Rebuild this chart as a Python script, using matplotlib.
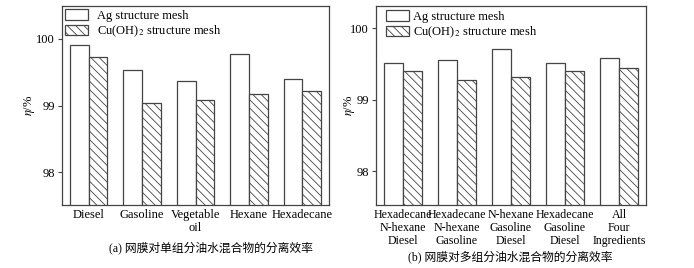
import matplotlib
matplotlib.use("Agg")
import matplotlib.pyplot as plt
import numpy as np

plt.rcParams['font.family'] = ['Liberation Serif', 'Noto Sans CJK SC']
plt.rcParams['mathtext.fontset'] = 'stix'
plt.rcParams['hatch.linewidth'] = 0.6
plt.rcParams['hatch.color'] = '#333333'

# Panel (a): single-component mixtures
cats_a = ["Diesel", "Gasoline", "Vegetable\noil", "Hexane", "Hexadecane"]
ag_a = [99.91, 99.53, 99.36, 99.77, 99.40]
cu_a = [99.73, 99.03, 99.08, 99.17, 99.21]

# Panel (b): multi-component mixtures
cats_b = ["Hexadecane\nN-hexane\nDiesel", "Hexadecane\nN-hexane\nGasoline",
          "N-hexane\nGasoline\nDiesel", "Hexadecane\nGasoline\nDiesel",
          "All\nFour\nIngredients"]
ag_b = [99.51, 99.56, 99.71, 99.52, 99.59]
cu_b = [99.40, 99.28, 99.32, 99.40, 99.45]

yticks = [98, 99, 100]
labels = ["Ag structure mesh", "Cu(OH)$_2$ structure mesh"]
captions = ["(a) 网膜对单组分油水混合物的分离效率", "(b) 网膜对多组分油水混合物的分离效率"]

W, H = 694, 268
fig = plt.figure(figsize=(W / 100, H / 100), dpi=100)

edge = '#444444'
fs = 9

def make(ax, cats, ag, cu, ylim, leg_anchor, textpad, ylab_x, xfs):
    x = np.arange(len(cats))
    w = 0.35
    ax.bar(x - w / 2, ag, w, color='white', edgecolor=edge, linewidth=0.9, label=labels[0])
    ax.bar(x + w / 2, cu, w, color='white', edgecolor=edge, linewidth=0.9, hatch='\\\\\\\\', label=labels[1])
    ax.set_xlim(-0.5, len(cats) - 0.5)
    ax.set_ylim(*ylim)
    ax.set_yticks(yticks)
    ax.set_yticklabels([str(v) for v in yticks], fontsize=fs)
    ax.set_xticks(x)
    ax.set_xticklabels(cats, fontsize=xfs, linespacing=1.08)
    ax.tick_params(axis='x', length=0, pad=3)
    ax.tick_params(axis='y', length=3, width=0.8, color=edge, pad=2)
    for s in ax.spines.values():
        s.set_color(edge)
        s.set_linewidth(0.9)
    ax.set_ylabel(r"$\eta$/%", fontsize=fs)
    ax.yaxis.set_label_coords(ylab_x, 0.5)
    ax.legend(loc='upper left', bbox_to_anchor=leg_anchor, frameon=False, fontsize=fs,
              handlelength=1.85, handleheight=0.95, handletextpad=textpad,
              labelspacing=0.15, borderpad=0, borderaxespad=0)

ax1 = fig.add_axes([62 / W, (H - 205) / H, 267 / W, 199 / H])
make(ax1, cats_a, ag_a, cu_a, (97.51, 100.49), (3 / 267, 1 - 3 / 199), 0.7, -0.094, fs)

ax2 = fig.add_axes([376 / W, (H - 205) / H, 270 / W, 199 / H])
make(ax2, cats_b, ag_b, cu_b, (97.53, 100.31), (10 / 270, 1 - 4 / 199), 0.35, -0.07, 8.6)

fig.text(211 / W, 1 - 248 / H, captions[0], fontsize=8.5, ha='center', va='center')
fig.text(510 / W, 1 - 257 / H, captions[1], fontsize=8.5, ha='center', va='center')

fig.savefig("out.png", dpi=100)
